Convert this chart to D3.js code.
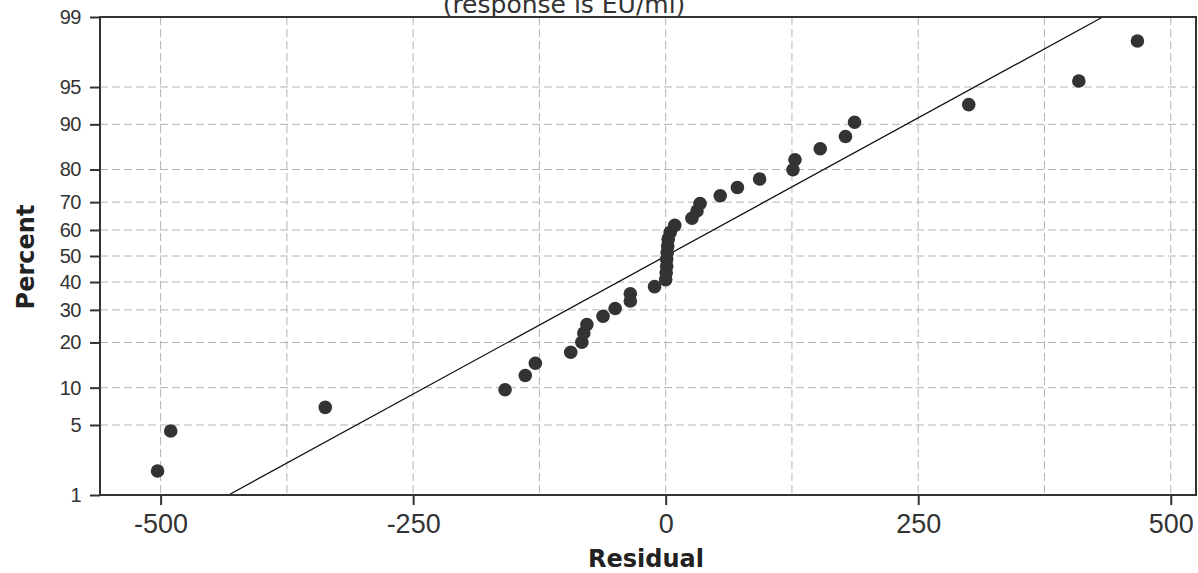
<!DOCTYPE html>
<html>
<head>
<meta charset="utf-8">
<script src="https://cdnjs.cloudflare.com/ajax/libs/d3/7.8.5/d3.min.js"></script>
<style>
  body { margin: 0; background: #fff; }
  .grid line { stroke: #b4b4b4; stroke-width: 1; stroke-dasharray: 8,4; }
  .tick-label { font-family: "Liberation Sans", Arial, sans-serif; fill: #333; }
  .axis-title { font-family: "DejaVu Sans", Verdana, sans-serif; font-weight: bold; fill: #222; }
</style>
</head>
<body>
<script>
// Residuals (sorted)
var residuals = [-503, -490, -337, -159, -139, -129, -94, -83, -81, -78,
                 -62, -50, -35, -35, -11, 0, 0.5, 1, 1, 1.5,
                 2, 2.5, 4.5, 9, 26, 31, 34, 54, 71, 93,
                 126, 128, 153, 178, 187, 300, 409, 467];

// Percent (plotting position) of each point
var percents = [1.82, 4.43, 7.03, 9.64, 12.24, 14.84, 17.45, 20.05, 22.66, 25.26,
                27.86, 30.47, 33.07, 35.68, 38.28, 40.89, 43.49, 46.09, 48.70, 51.30,
                53.91, 56.51, 59.11, 61.72, 64.32, 66.93, 69.53, 72.14, 74.74, 77.34,
                79.95, 82.55, 85.16, 87.76, 90.36, 92.97, 95.57, 98.18];

// Axis ticks
var xTicks = [-500, -250, 0, 250, 500];
var xGrid = [-500, -375, -250, -125, 0, 125, 250, 375, 500];
var yTicks = [1, 5, 10, 20, 30, 40, 50, 60, 70, 80, 90, 95, 99];

// Fitted normal line
var fitMean = 0;
var fitSd = 186;

// Width and height
var w = 1198;
var h = 573;
var plotLeft = 100, plotRight = 1196, plotTop = 17, plotBottom = 495;

// inverse normal cdf (Acklam)
function probit(p) {
  var a = [-3.969683028665376e+01, 2.209460984245205e+02, -2.759285104469687e+02,
           1.383577518672690e+02, -3.066479806614716e+01, 2.506628277459239e+00];
  var b = [-5.447609879822406e+01, 1.615858368580409e+02, -1.556989798598866e+02,
           6.680131188771972e+01, -1.328068155288572e+01];
  var c = [-7.784894002430293e-03, -3.223964580411365e-01, -2.400758277161838e+00,
           -2.549732539343734e+00, 4.374664141464968e+00, 2.938163982698783e+00];
  var d = [7.784695709041462e-03, 3.224671290700398e-01, 2.445134137142996e+00,
           3.754408661907416e+00];
  var q, r;
  if (p < 0.02425) {
    q = Math.sqrt(-2 * Math.log(p));
    return (((((c[0]*q+c[1])*q+c[2])*q+c[3])*q+c[4])*q+c[5]) / ((((d[0]*q+d[1])*q+d[2])*q+d[3])*q+1);
  } else if (p > 1 - 0.02425) {
    q = Math.sqrt(-2 * Math.log(1 - p));
    return -(((((c[0]*q+c[1])*q+c[2])*q+c[3])*q+c[4])*q+c[5]) / ((((d[0]*q+d[1])*q+d[2])*q+d[3])*q+1);
  }
  q = p - 0.5;
  r = q * q;
  return (((((a[0]*r+a[1])*r+a[2])*r+a[3])*r+a[4])*r+a[5])*q / (((((b[0]*r+b[1])*r+b[2])*r+b[3])*r+b[4])*r+1);
}

var x = d3.scaleLinear()
          .domain([-560, 525])
          .range([plotLeft, plotRight]);

var zMax = probit(0.99);
var z = d3.scaleLinear()
          .domain([-zMax, zMax])
          .range([plotBottom, plotTop]);

function y(pct) { return z(probit(pct / 100)); }

// Create SVG element
var svg = d3.select("body")
      .append("svg")
      .attr("width", w)
      .attr("height", h);

// title (cropped at top of picture)
svg.append("text")
   .attr("x", 564)
   .attr("y", 13)
   .attr("text-anchor", "middle")
   .style("font-family", "DejaVu Sans, Verdana, sans-serif")
   .style("font-size", "25px")
   .style("fill", "#333")
   .text("(response is EU/ml)");

// grid
var grid = svg.append("g").attr("class", "grid");
grid.selectAll(".vg")
    .data(xGrid)
    .enter()
    .append("line")
    .attr("x1", function(d) { return x(d); })
    .attr("x2", function(d) { return x(d); })
    .attr("y1", plotTop)
    .attr("y2", plotBottom);
grid.selectAll(".hg")
    .data(yTicks.slice(1, -1))
    .enter()
    .append("line")
    .attr("x1", plotLeft)
    .attr("x2", plotRight)
    .attr("y1", function(d) { return y(d); })
    .attr("y2", function(d) { return y(d); });

// fitted line
var line = d3.line()
      .x(function(d) { return x(fitMean + d * fitSd); })
      .y(function(d) { return z(d); });
svg.append("path")
   .datum([-zMax, zMax])
   .attr("d", line)
   .attr("fill", "none")
   .attr("stroke", "#111")
   .attr("stroke-width", 1.3);

// points
svg.selectAll("circle")
   .data(residuals)
   .enter()
   .append("circle")
   .attr("cx", function(d) { return x(d); })
   .attr("cy", function(d, i) { return y(percents[i]); })
   .attr("r", 6.8)
   .attr("fill", "#333");

// frame
svg.append("rect")
   .attr("x", plotLeft)
   .attr("y", plotTop)
   .attr("width", plotRight - plotLeft)
   .attr("height", plotBottom - plotTop)
   .attr("fill", "none")
   .attr("stroke", "#333")
   .attr("stroke-width", 2);

// x axis
var xAxis = d3.axisBottom(x)
      .tickValues(xTicks)
      .tickSize(10)
      .tickPadding(9)
      .tickFormat(d3.format("d"));
var gx = svg.append("g")
   .attr("transform", "translate(0," + plotBottom + ")")
   .call(xAxis);
gx.select(".domain").remove();
gx.selectAll(".tick line").attr("stroke", "#333").attr("stroke-width", 2);
gx.selectAll(".tick text")
  .attr("class", "tick-label")
  .style("font-size", "27px")
  .style("fill", "#333")
  .text(function(d) { return d < 0 ? "-" + Math.abs(d) : d; });

// y axis
var yAxis = d3.axisLeft(z)
      .tickValues(yTicks.map(function(p) { return probit(p / 100); }))
      .tickSize(10)
      .tickPadding(9)
      .tickFormat(function(d, i) { return yTicks[i]; });
var gy = svg.append("g")
   .attr("transform", "translate(" + plotLeft + ",0)")
   .call(yAxis);
gy.select(".domain").remove();
gy.selectAll(".tick line").attr("stroke", "#333").attr("stroke-width", 2);
gy.selectAll(".tick text")
  .attr("class", "tick-label")
  .style("font-size", "20px")
  .style("letter-spacing", "-0.5px")
  .style("fill", "#333");

// axis titles
svg.append("text")
   .attr("class", "axis-title")
   .attr("x", 646)
   .attr("y", 567)
   .attr("text-anchor", "middle")
   .style("font-size", "24px")
   .text("Residual");

svg.append("text")
   .attr("class", "axis-title")
   .attr("transform", "translate(34,257) rotate(-90)")
   .attr("text-anchor", "middle")
   .style("font-size", "24px")
   .text("Percent");
</script>
</body>
</html>
